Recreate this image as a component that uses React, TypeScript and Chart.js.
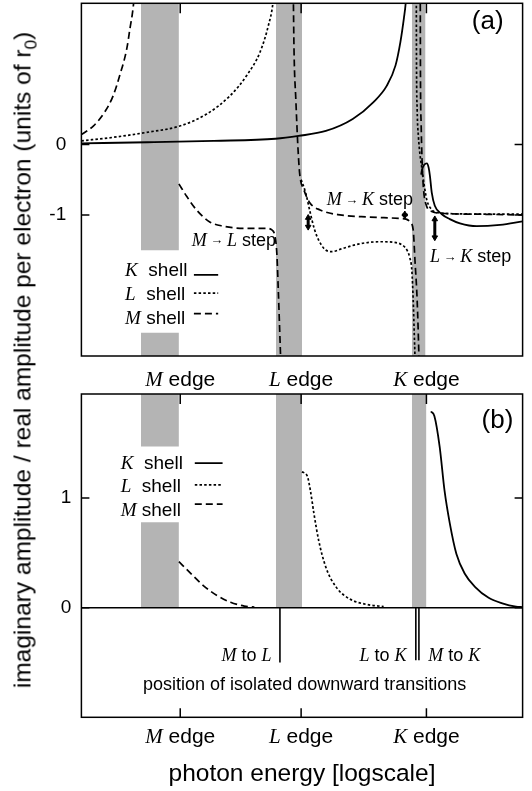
import React, { useEffect, useRef } from 'react';
import { Chart, registerables } from 'chart.js';
Chart.register(...registerables);

type P = [number, number];

// ---------- x positions (log photon energy, arbitrary units 0..10) ----------
const edgeNames = ['M', 'L', 'K'];
const edgePositions = [2.24, 4.98, 7.82];
const bandStart = [1.35, 4.41, 7.49];
const bandEndA = [2.21, 5.0, 7.8];
const bandEndB = [2.21, 5.0, 7.82];
const legendGapA: P = [-2.67, -1.5];
const legendGapB: P = [0.78, 1.47];

// ---------- panel (a): real amplitude ----------
const realK_belowK: P[] = [[0, 0.015], [1.5, 0.03], [3.0, 0.05], [4.4, 0.08], [4.92, 0.12], [5.54, 0.19], [6.15, 0.36], [6.62, 0.6], [6.92, 0.83], [7.12, 1.12], [7.23, 1.45], [7.31, 1.79], [7.35, 2.0], [7.38, 2.3]];
const realK_aboveK: P[] = [[7.7, -0.43], [7.72, -0.36], [7.77, -0.29], [7.83, -0.27], [7.87, -0.33], [7.9, -0.45], [7.94, -0.68], [8.01, -0.87], [8.17, -0.99], [8.35, -1.06], [8.58, -1.12], [8.96, -1.16], [9.49, -1.14], [10, -1.09]];
const realL_belowL: P[] = [[0, 0.05], [0.72, 0.1], [1.48, 0.17], [2.23, 0.26], [2.84, 0.43], [3.37, 0.69], [3.75, 0.98], [4.05, 1.31], [4.24, 1.69], [4.34, 2.0], [4.38, 2.3]];
const realL_LtoK: P[] = [[4.98, -0.5], [5.08, -0.68], [5.18, -0.95], [5.28, -1.2], [5.38, -1.36], [5.52, -1.49], [5.68, -1.52], [5.9, -1.48], [6.3, -1.41], [6.8, -1.38], [7.1, -1.39], [7.28, -1.43], [7.38, -1.5], [7.44, -1.6], [7.49, -1.79], [7.52, -2.2], [7.545, -2.7], [7.56, -3.0], [7.57, -3.3]];
const realL_aboveK: P[] = [[7.59, 2.3], [7.595, 1.2], [7.61, 0.5], [7.64, 0.1], [7.67, -0.12], [7.71, -0.31], [7.77, -0.58], [7.83, -0.79], [7.95, -0.93], [8.1, -0.97], [8.6, -0.985], [9.3, -0.99], [10, -0.99]];
const realM_belowM: P[] = [[0, 0.14], [0.27, 0.26], [0.53, 0.46], [0.72, 0.69], [0.87, 0.98], [1.03, 1.36], [1.1, 1.64], [1.18, 1.98], [1.22, 2.3]];
const realM_MtoL: P[] = [[2.21, -0.56], [2.39, -0.74], [2.61, -0.93], [2.91, -1.1], [3.22, -1.16], [3.67, -1.19], [4.2, -1.19], [4.31, -1.21], [4.39, -1.31], [4.43, -1.55], [4.46, -2.02], [4.5, -2.74], [4.53, -3.3]];
const realM_LtoK: P[] = [[4.8, 2.3], [4.82, 1.31], [4.86, 0.64], [4.91, -0.07], [4.95, -0.43], [5.04, -0.64], [5.18, -0.83], [5.41, -0.93], [5.86, -1.0], [6.54, -1.03], [7.22, -1.05], [7.36, -1.06], [7.45, -1.1], [7.52, -1.21], [7.56, -1.64], [7.61, -2.21], [7.65, -3.01], [7.66, -3.3]];
const realM_aboveK: P[] = [[7.68, 2.3], [7.685, 1.0], [7.7, 0.3], [7.72, -0.2], [7.75, -0.6], [7.81, -0.85], [7.94, -0.95], [8.24, -0.98], [9.03, -0.99], [10, -1.0]];

// step arrows (a)
const stepNames: [string, string][] = [['M', 'L'], ['M', 'K'], ['L', 'K']];
const stepArrowX = [5.14, 7.33, 8.01];
const stepArrowTop = [-1.0, -0.95, -1.02];
const stepArrowBottom = [-1.21, -1.05, -1.36];
const stepLabelX = [2.5, 5.56, 7.9];
const stepLabelY = [-1.44, -0.86, -1.67];

// ---------- panel (b): imaginary amplitude ----------
const imagM: P[] = [[2.21, 0.42], [2.46, 0.32], [2.77, 0.2], [3.08, 0.11], [3.38, 0.05], [3.69, 0.015], [3.92, 0.005]];
const imagL: P[] = [[5.0, 1.24], [5.12, 1.2], [5.19, 1.07], [5.27, 0.86], [5.38, 0.61], [5.54, 0.37], [5.77, 0.19], [6.08, 0.08], [6.46, 0.03], [6.85, 0.01]];
const imagK: P[] = [[7.92, 1.79], [8.0, 1.75], [8.12, 1.47], [8.23, 1.07], [8.35, 0.77], [8.5, 0.49], [8.69, 0.31], [8.92, 0.19], [9.23, 0.09], [9.54, 0.04], [9.85, 0.01], [10, 0.005]];

// isolated downward transitions (b)
const transFrom = ['M', 'L', 'M'];
const transTo = ['L', 'K', 'K'];
const transX = [4.5, 7.58, 7.65];
const transDepth = [-0.5, -0.48, -0.48];

// legends
const shellNames = ['K', 'L', 'M'];
const shellGap = ['  shell', '  shell', ' shell'];
const legendA_textY = [-1.87, -2.2, -2.54];
const legendA_lineY = [-1.85, -2.11, -2.4];
const legendA_lineX: P = [2.55, 3.1];
const legendB_textY = [1.27, 1.06, 0.84];
const legendB_lineY = [1.32, 1.12, 0.945];
const legendB_lineX: P = [2.57, 3.2];

// ---------- styling ----------
const SANS = '"Liberation Sans", Arial, Helvetica, sans-serif';
const SERIF = '"Liberation Serif", "Times New Roman", serif';
const sans = (s: number) => `${s}px ${SANS}`;
const ital = (s: number) => `italic ${s}px ${SERIF}`;
const GRAY = 'rgb(180,180,180)';
const SOLID: number[] = [];
const DASH = [7, 4];
const DOT = [2.5, 2.2];
const shellDash = [SOLID, DOT, DASH];

const pts = (p: P[]) => p.map(([x, y]) => ({ x, y }));

function lineDs(p: P[], dash: number[], width = 1.7): any {
  return {
    type: 'line', data: pts(p), borderColor: '#000', borderWidth: width, borderDash: dash,
    pointRadius: 0, fill: false, cubicInterpolationMode: 'monotone', order: 1,
  };
}
function bandDs(x0: number, x1: number, yLo: number, yHi: number): any {
  return {
    type: 'line', data: [{ x: x0, y: yHi }, { x: x1, y: yHi }], borderWidth: 1,
    borderColor: 'rgba(0,0,0,0)', backgroundColor: GRAY, fill: { value: yLo }, pointRadius: 0, order: 10,
  };
}
function arrowDs(x: number, yTop: number, yBot: number): any {
  return {
    type: 'line', data: [{ x, y: yTop }, { x, y: yBot }], borderColor: '#000', borderWidth: 3,
    pointStyle: 'triangle', pointRadius: 3.2, pointRotation: [0, 180], pointBackgroundColor: '#000',
    pointBorderColor: '#000', pointBorderWidth: 1, order: 0,
  };
}

type Seg = [string, string, number?];
function rich(ctx: CanvasRenderingContext2D, segs: Seg[], px: number, py: number, align: 'left' | 'right' | 'center') {
  let w = 0;
  for (const [t, f] of segs) { ctx.font = f; w += ctx.measureText(t).width; }
  let cx = align === 'left' ? px : align === 'right' ? px - w : px - w / 2;
  ctx.textAlign = 'left';
  ctx.textBaseline = 'alphabetic';
  ctx.fillStyle = '#000';
  for (const [t, f, dy] of segs) { ctx.font = f; ctx.fillText(t, cx, py + (dy || 0)); cx += ctx.measureText(t).width; }
}

function frameAndTicks(chart: any, yTicks: number[], topTicks: boolean, bottomTicks: boolean) {
  const { ctx, chartArea: { left, right, top, bottom }, scales: { x, y } } = chart;
  ctx.save();
  ctx.strokeStyle = '#000';
  ctx.lineWidth = 1.5;
  ctx.setLineDash([]);
  ctx.strokeRect(left, top, right - left, bottom - top);
  ctx.beginPath();
  for (const v of yTicks) {
    const py = y.getPixelForValue(v);
    ctx.moveTo(left, py); ctx.lineTo(left + 8, py);
    ctx.moveTo(right - 8, py); ctx.lineTo(right, py);
  }
  for (const e of edgePositions) {
    const px = x.getPixelForValue(e);
    if (topTicks) { ctx.moveTo(px, top); ctx.lineTo(px, top + 10); }
    if (bottomTicks) { ctx.moveTo(px, bottom); ctx.lineTo(px, bottom - 9); }
  }
  ctx.stroke();
  ctx.restore();
}

function edgeLabels(chart: any, offset: number) {
  const { ctx, chartArea: { bottom }, scales: { x } } = chart;
  edgeNames.forEach((n, i) => {
    rich(ctx, [[n, ital(21)], [' edge', sans(21)]], x.getPixelForValue(edgePositions[i]), bottom + offset, 'center');
  });
}

function legendTexts(chart: any, xs: number, ys: number[]) {
  const { ctx, scales: { x, y } } = chart;
  shellNames.forEach((n, i) => {
    rich(ctx, [[n, ital(19)], [shellGap[i], sans(19)]], x.getPixelForValue(xs), y.getPixelForValue(ys[i]), 'left');
  });
}

function makeChart(canvas: HTMLCanvasElement, o: any) {
  return new Chart(canvas, {
    type: 'line',
    data: { datasets: o.datasets },
    options: {
      animation: false,
      responsive: false,
      devicePixelRatio: 1,
      events: [],
      elements: { line: { capBezierPoints: false } as any },
      layout: { autoPadding: false, padding: { top: o.padTop, right: o.padRight, left: 0, bottom: 0 } },
      plugins: { legend: { display: false }, tooltip: { enabled: false } },
      scales: {
        x: {
          type: 'linear', min: 0, max: 10,
          ticks: { display: false },
          grid: { display: false, drawTicks: false },
          border: { display: false },
          title: o.xTitle
            ? { display: true, text: o.xTitle, color: '#000', font: { family: SANS, size: 24.5 }, padding: { top: 0, bottom: o.xTitlePad } }
            : { display: false },
          afterFit: (s: any) => { s.height = o.xHeight; s.paddingLeft = 0; s.paddingRight = 0; },
        },
        y: {
          type: 'linear', min: o.yMin, max: o.yMax,
          afterBuildTicks: (s: any) => { s.ticks = o.yTicks.map((v: number) => ({ value: v })); },
          ticks: { color: '#000', font: { family: SANS, size: 19 }, padding: o.tickPad, callback: (v: any) => String(v) },
          grid: { display: false, drawTicks: false },
          border: { display: false },
          afterFit: (s: any) => { s.width = o.yWidth; s.paddingTop = 0; s.paddingBottom = 0; },
        },
      },
    } as any,
    plugins: [{ id: 'deco', afterDatasetsDraw: (c: any) => o.deco(c) }],
  });
}

export default function App() {
  const refA = useRef<HTMLCanvasElement>(null);
  const refB = useRef<HTMLCanvasElement>(null);

  useEffect(() => {
    const dsA: any[] = [
      bandDs(bandStart[0], bandEndA[0], legendGapA[1], 2.3),
      bandDs(bandStart[0], bandEndA[0], -3.3, legendGapA[0]),
      bandDs(bandStart[1], bandEndA[1], -3.3, 2.3),
      bandDs(bandStart[2], bandEndA[2], -3.3, 2.3),
      lineDs(realK_belowK, SOLID, 1.8),
      lineDs(realK_aboveK, SOLID, 1.8),
      lineDs(realL_belowL, DOT),
      lineDs(realL_LtoK, DOT),
      lineDs(realL_aboveK, DOT),
      lineDs(realM_belowM, DASH),
      lineDs(realM_MtoL, DASH),
      lineDs(realM_LtoK, DASH),
      lineDs(realM_aboveK, DASH),
    ];
    stepArrowX.forEach((sx, i) => dsA.push(arrowDs(sx, stepArrowTop[i] - 0.04, stepArrowBottom[i] + 0.04)));
    legendA_lineY.forEach((ly, i) => dsA.push(lineDs([[legendA_lineX[0], ly], [legendA_lineX[1], ly]], shellDash[i], 1.8)));

    const chartA = makeChart(refA.current!, {
      datasets: dsA, yMin: -3, yMax: 2, yTicks: [0, -1], padTop: 3.3, padRight: 9.4, yWidth: 81.4,
      xHeight: 38, tickPad: 15.2,
      deco: (c: any) => {
        frameAndTicks(c, [0, -1], true, false);
        const { ctx, scales: { x, y } } = c;
        rich(ctx, [['(a)', sans(26)]], x.getPixelForValue(8.85), y.getPixelForValue(1.63), 'left');
        legendTexts(c, 0.99, legendA_textY);
        stepNames.forEach(([a, b], i) => {
          rich(ctx, [[a, ital(18)], [' \u2192 ', sans(13), -1.5], [b, ital(18)], [' step', sans(18)]],
            x.getPixelForValue(stepLabelX[i]), y.getPixelForValue(stepLabelY[i]), 'left');
        });
        edgeLabels(c, 30);
      },
    });

    const dsB: any[] = [
      bandDs(bandStart[0], bandEndB[0], 0, legendGapB[0]),
      bandDs(bandStart[0], bandEndB[0], legendGapB[1], 2.2),
      bandDs(bandStart[1], bandEndB[1], 0, 2.2),
      bandDs(bandStart[2], bandEndB[2], 0, 2.2),
      lineDs([[0, 0], [10, 0]], SOLID, 1.6),
      lineDs(imagM, DASH),
      lineDs(imagL, DOT),
      lineDs(imagK, SOLID, 1.8),
    ];
    transX.forEach((tx, i) => dsB.push(lineDs([[tx, 0], [tx, transDepth[i]]], SOLID, 1.6)));
    legendB_lineY.forEach((ly, i) => dsB.push(lineDs([[legendB_lineX[0], ly], [legendB_lineX[1], ly]], shellDash[i], 1.8)));

    const chartB = makeChart(refB.current!, {
      datasets: dsB, yMin: -1, yMax: 1.95, yTicks: [1, 0], padTop: 4, padRight: 9.4, yWidth: 81.4,
      xHeight: 73.7, tickPad: 10, xTitle: 'photon energy [logscale]', xTitlePad: 2.3,
      deco: (c: any) => {
        frameAndTicks(c, [1, 0], true, true);
        const { ctx, scales: { x, y } } = c;
        rich(ctx, [['(b)', sans(26)]], x.getPixelForValue(9.07), y.getPixelForValue(1.644), 'left');
        legendTexts(c, 0.89, legendB_textY);
        const ly = y.getPixelForValue(-0.486);
        rich(ctx, [[transFrom[0], ital(18)], [' to ', sans(18)], [transTo[0], ital(18)]], x.getPixelForValue(4.31), ly, 'right');
        rich(ctx, [[transFrom[1], ital(18)], [' to ', sans(18)], [transTo[1], ital(18)]], x.getPixelForValue(7.37), ly, 'right');
        rich(ctx, [[transFrom[2], ital(18)], [' to ', sans(18)], [transTo[2], ital(18)]], x.getPixelForValue(7.86), ly, 'left');
        rich(ctx, [['position of isolated downward transitions', sans(18)]], x.getPixelForValue(5.06), y.getPixelForValue(-0.755), 'center');
        edgeLabels(c, 26);
      },
    });

    return () => { chartA.destroy(); chartB.destroy(); };
  }, []);

  return (
    <div style={{ position: 'absolute', left: 0, top: 0, width: 532, height: 791, background: '#fff', overflow: 'hidden' }}>
      <canvas ref={refA} width={532} height={394} style={{ position: 'absolute', left: 0, top: 0 }} />
      <canvas ref={refB} width={532} height={401} style={{ position: 'absolute', left: 0, top: 390 }} />
      <div
        style={{
          position: 'absolute', left: 25, top: 359.5, transform: 'translate(-50%, -50%) rotate(-90deg)',
          whiteSpace: 'nowrap', fontFamily: SANS, fontSize: 24.5, color: '#000', lineHeight: 1,
        }}
      >
        imaginary amplitude / real amplitude per electron (units of r<sub style={{ fontSize: '0.7em' }}>0</sub>)
      </div>
    </div>
  );
}
